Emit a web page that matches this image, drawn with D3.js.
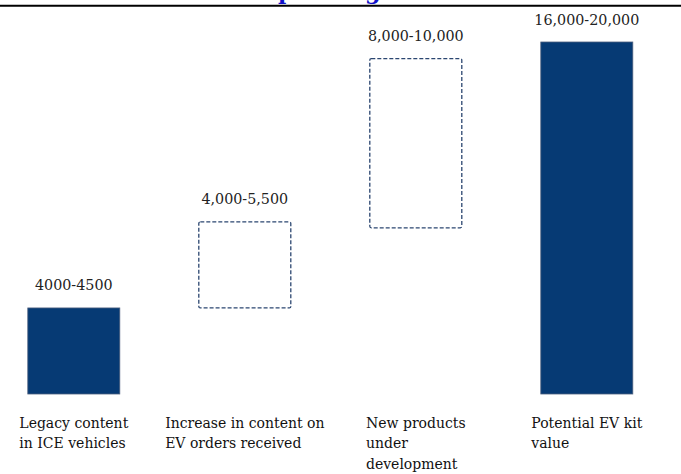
<!DOCTYPE html>
<html>
<head>
<meta charset="utf-8">
<script src="https://cdn.jsdelivr.net/npm/d3@7"></script>
<style>
  html, body { margin: 0; padding: 0; background: #fff; }
  svg { display: block; }
</style>
</head>
<body>
<svg id="chart" width="681" height="474"></svg>
<script>
// ---- data ----
const titleText = "EV Kit Value – Expanding Content";
const categories = [
  ["Legacy content", "in ICE vehicles"],
  ["Increase in content on", "EV orders received"],
  ["New products", "under", "development"],
  ["Potential EV kit", "value"]
];
const rangeLabels = ["4000-4500", "4,000-5,500", "8,000-10,000", "16,000-20,000"];
const barStart = [0, 4400, 8500, 0];       // bottom of each (floating) bar
const barEnd   = [4400, 8800, 17150, 18000]; // top of each bar
const barKind  = ["solid", "dashed", "dashed", "solid"];

// ---- layout ----
const W = 681, H = 474;
const svg = d3.select("#chart");
const font = "'DejaVu Serif', serif";

const x = d3.scaleBand()
  .domain(d3.range(categories.length))
  .range([27.8, 632.8])
  .paddingInner(0.462)
  .paddingOuter(0);

const y = d3.scaleLinear().domain([0, 18000]).range([394, 42]);

// ---- title (mostly cropped at the top) ----
const title = svg.append("text")
  .attr("font-family", font)
  .attr("font-weight", "bold")
  .attr("font-size", 22)
  .attr("fill", "#1010c8")
  .attr("y", -1)
  .text(titleText);
const tNode = title.node();
const iP = titleText.indexOf("p"), iG = titleText.indexOf("g");
let pg = tNode.getSubStringLength(iP, iG - iP);
const fs = 22 * 87 / pg;
title.attr("font-size", fs);
const before = tNode.getSubStringLength(0, iP);
title.attr("x", 278 - before);

svg.append("line")
  .attr("x1", 0).attr("x2", W)
  .attr("y1", 5.7).attr("y2", 5.7)
  .attr("stroke", "#000").attr("stroke-width", 2);

// ---- bars ----
const idx = d3.range(categories.length);
svg.append("g").selectAll("rect")
  .data(idx)
  .join("rect")
  .attr("x", i => x(i))
  .attr("width", x.bandwidth())
  .attr("y", i => y(barEnd[i]))
  .attr("height", i => y(barStart[i]) - y(barEnd[i]))
  .attr("rx", i => barKind[i] === "dashed" ? 1.5 : 0)
  .attr("fill", i => barKind[i] === "solid" ? "#063a74" : "none")
  .attr("stroke", i => barKind[i] === "solid" ? "#4d5f7e" : "#2b4670")
  .attr("stroke-width", i => barKind[i] === "solid" ? 0.8 : 1.3)
  .attr("stroke-dasharray", i => barKind[i] === "dashed" ? "4,2" : null);

// ---- range labels ----
svg.append("g").selectAll("text")
  .data(idx)
  .join("text")
  .attr("x", i => x(i) + x.bandwidth() / 2)
  .attr("y", i => y(barEnd[i]) - 17.5)
  .attr("text-anchor", "middle")
  .attr("font-family", font)
  .attr("font-size", 14.3)
  .attr("fill", "#222")
  .text(i => rangeLabels[i]);

// ---- category labels (left-aligned blocks centred under bars) ----
const catG = svg.append("g");
idx.forEach(i => {
  const t = catG.append("text")
    .attr("font-family", font)
    .attr("font-size", 14)
    .attr("fill", "#111")
    .attr("y", 428);
  t.selectAll("tspan")
    .data(categories[i])
    .join("tspan")
    .attr("dy", (d, j) => j === 0 ? 0 : 20.3)
    .text(d => d);
  const tspans = t.selectAll("tspan").nodes();
  const wMax = d3.max(tspans, n => n.getComputedTextLength());
  const left = x(i) + x.bandwidth() / 2 - wMax / 2;
  t.selectAll("tspan").attr("x", left);
});
</script>
</body>
</html>
